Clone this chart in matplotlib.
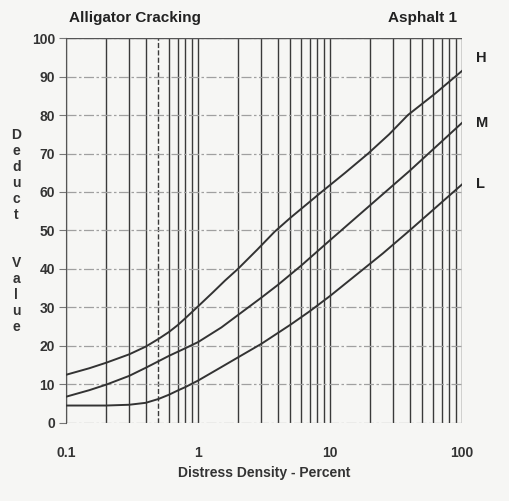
import matplotlib
matplotlib.use("Agg")
import matplotlib.pyplot as plt
import numpy as np

title_left = "Alligator Cracking"
title_right = "Asphalt 1"
x_label = "Distress Density - Percent"
y_label = "Deduct Value"

h_x = [0.1, 0.15, 0.2, 0.3, 0.4, 0.5, 0.6, 0.7, 0.8, 1, 1.3, 1.6, 2, 2.8, 3.8, 5, 8.6, 13, 19.4, 28, 38.8, 62, 100]
h_y = [12.5, 14.2, 15.6, 17.8, 19.8, 21.8, 23.6, 25.4, 27.2, 30.3, 34.0, 37.0, 40.0, 45.0, 49.7, 53.3, 60.0, 65.0, 70.0, 75.0, 80.0, 85.5, 91.5]
m_x = [0.1, 0.15, 0.2, 0.3, 0.4, 0.5, 0.6, 0.8, 1, 1.5, 2, 3, 4, 6, 10, 20, 40, 100]
m_y = [6.8, 8.5, 9.9, 12.2, 14.3, 16.0, 17.4, 19.4, 21.0, 24.8, 28.0, 32.5, 35.8, 40.8, 47.5, 56.5, 65.5, 78.0]
l_x = [0.1, 0.15, 0.2, 0.3, 0.4, 0.5, 0.6, 0.7, 0.8, 1, 1.5, 2, 3, 5, 7, 10, 25, 40, 100]
l_y = [4.5, 4.5, 4.5, 4.7, 5.2, 6.2, 7.3, 8.4, 9.3, 11.0, 14.5, 17.0, 20.5, 25.5, 29.0, 33.0, 44.0, 50.0, 62.0]
curve_labels = ["H", "M", "L"]
label_offsets = [9, 0, 0]

x_ticks = [0.1, 1, 10, 100]
x_tick_labels = ["0.1", "1", "10", "100"]
y_ticks = list(range(0, 101, 10))

plt.rcParams['font.family'] = ['Liberation Sans', 'DejaVu Sans']
plt.rcParams['font.weight'] = 'bold'

fig = plt.figure(figsize=(5.09, 5.01), dpi=100, facecolor='#f6f6f4')
ax = fig.add_axes([0.130, 0.156, 0.778, 0.768])
ax.set_facecolor('#f6f6f4')
ax.set_xscale('log')
ax.set_xlim(0.1, 100)
ax.set_ylim(0, 100)

for dec in [0.1, 1, 10]:
    for k in range(1, 10):
        v = dec * k
        ls = '--' if abs(v - 0.5) < 1e-9 else '-'
        ax.axvline(v, color='#3a3a3a', lw=1.0, ls=ls, zorder=1)
ax.axvline(100, color='#3a3a3a', lw=1.0, zorder=1)
for yv in y_ticks:
    ax.axhline(yv, color='#a0a0a0', lw=0.9, ls=(0, (8, 2, 2, 2)), zorder=1)
ax.axhline(100, color='#555555', lw=1.0, zorder=1)

for xs, ys in [(h_x, h_y), (m_x, m_y), (l_x, l_y)]:
    ax.plot(xs, ys, color='#333333', lw=1.4, zorder=3, solid_joinstyle='round')

for lab, ys, off in zip(curve_labels, [h_y, m_y, l_y], label_offsets):
    ax.annotate(lab, xy=(100, ys[-1]), xytext=(10, off), textcoords='offset points',
                fontsize=10.5, color='#222222', ha='left', va='center', fontweight='bold')

for s in ax.spines.values():
    s.set_visible(False)
ax.spines['left'].set_visible(True)
ax.spines['left'].set_color('#555555')

ax.set_xticks(x_ticks)
ax.set_xticklabels(x_tick_labels)
ax.xaxis.set_minor_locator(matplotlib.ticker.NullLocator())
ax.set_yticks(y_ticks)
ax.tick_params(axis='x', length=0, labelsize=10, colors='#333333', pad=17)
ax.tick_params(axis='y', length=5, color='#777777', pad=3, labelsize=10, labelcolor='#333333')

ax.set_xlabel(x_label, fontsize=10, color='#333333', labelpad=4, fontweight='bold')
fig.text(0.032, 0.539, "\n".join(list("Deduct  Value")), ha='center', va='center',
         fontsize=10, color='#333333', linespacing=1.18, fontweight='bold')
fig.text(0.135, 0.965, title_left, fontsize=11, color='#222222', ha='left', va='center', fontweight='bold')
fig.text(0.898, 0.965, title_right, fontsize=11, color='#222222', ha='right', va='center', fontweight='bold')

fig.savefig("out.png", dpi=100, facecolor=fig.get_facecolor())
